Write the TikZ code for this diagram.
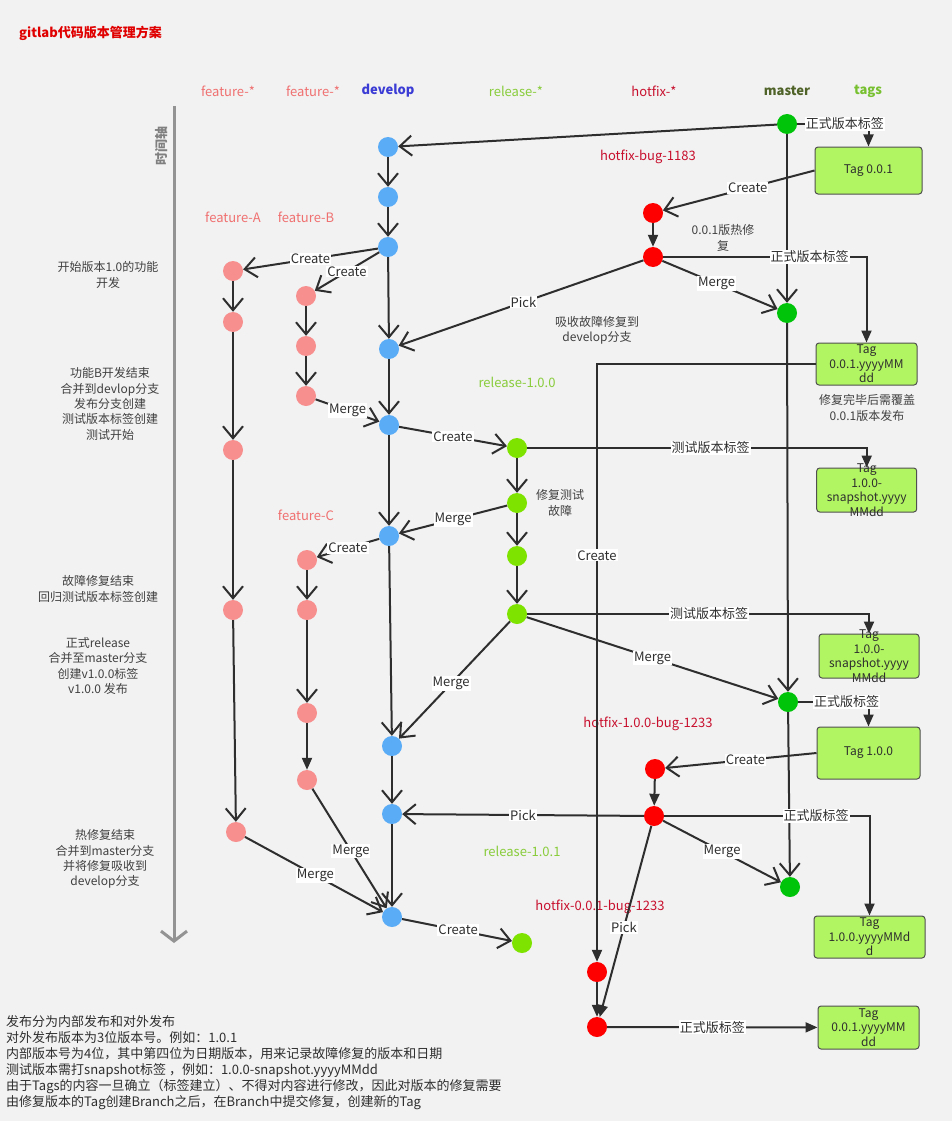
\documentclass[tikz,border=0pt]{standalone}
\usepackage{fontspec}
\setmainfont{Noto Sans CJK SC}
\usetikzlibrary{arrows.meta}
\pgfdeclarelayer{bg}
\pgfsetlayers{bg,main}
\definecolor{bgc}{HTML}{F2F2F2}
\definecolor{devc}{HTML}{5AACF6}
\definecolor{featc}{HTML}{F78F8F}
\definecolor{relc}{HTML}{7FE300}
\definecolor{mastc}{HTML}{00C40A}
\definecolor{hotc}{HTML}{FF0000}
\definecolor{tagc}{HTML}{B2F562}
\definecolor{tagline}{HTML}{505050}
\definecolor{linec}{HTML}{2E2E2E}
\definecolor{branchc}{HTML}{C8C8C8}
\definecolor{dashc}{HTML}{AAAAAA}
\definecolor{annc}{HTML}{404040}
\definecolor{featlbl}{HTML}{F07070}
\definecolor{devlbl}{HTML}{3B3BD5}
\definecolor{rellbl}{HTML}{88CC3A}
\definecolor{hotlbl}{HTML}{C8102E}
\definecolor{mastlbl}{HTML}{4F6228}
\definecolor{taglbl}{HTML}{77C02F}
\definecolor{titlec}{HTML}{E00000}
\tikzset{
  dot/.style={circle, inner sep=0pt, minimum size=20pt, fill=#1, draw=none},
  con/.style={draw=linec, line width=2pt},
  oarr/.style={con, -{Straight Barb[length=12pt,width=20pt]}},
  farr/.style={con, -{Triangle[length=12pt,width=10pt]}},
  lbl/.style={fill=white, inner sep=1pt, text=linec, font=\fontsize{13}{15}\selectfont},
  ann/.style={text=annc, align=center, inner sep=0pt, font=\fontsize{12}{15.3}\selectfont},
  hdr/.style={text=#1, inner sep=0pt, font=\fontsize{13}{15}\selectfont},
  hdrb/.style={text=#1, inner sep=0pt, font=\fontsize{13}{15}\selectfont\bfseries},
  tagbox/.style={draw=tagline, fill=tagc, rounded corners=3pt, line width=1pt, inner sep=0pt},
  tagtxt/.style={text=linec, align=center, inner sep=0pt, font=\fontsize{12}{14.6}\selectfont},
  branch/.style={draw=branchc, line width=2pt},
  sep/.style={draw=dashc, line width=1.5pt, dash pattern=on 4pt off 3pt},
}
\begin{document}
\begin{tikzpicture}[x=1pt,y=-1pt]
\path[use as bounding box, fill=bgc] (0,0) rectangle (952,1121);

% title and headers
\node[hdrb=titlec, anchor=west] (title) at (19,33) {gitlab代码版本管理方案};
\node[hdr=featlbl] (hf1) at (228,91) {feature-*};
\node[hdr=featlbl] (hf2) at (313,91) {feature-*};
\node[hdrb=devlbl] (hdev) at (388,91) {develop};
\node[hdr=rellbl] (hrel) at (516,91) {release-*};
\node[hdr=hotlbl] (hhot) at (654,91) {hotfix-*};
\node[hdrb=mastlbl] (hmas) at (787,91) {master};
\node[hdrb=taglbl] (htag) at (868,91) {tags};

% branch labels
\node[hdr=featlbl] (lfa) at (233,217) {feature-A};
\node[hdr=featlbl] (lfb) at (306,217) {feature-B};
\node[hdr=featlbl] (lfc) at (306,515) {feature-C};
\node[hdr=rellbl] (lr1) at (517,382) {release-1.0.0};
\node[hdr=rellbl] (lr2) at (522,851) {release-1.0.1};
\node[hdr=hotlbl] (lh1) at (648,157) {hotfix-bug-1183};
\node[hdr=hotlbl] (lh2) at (648,724) {hotfix-1.0.0-bug-1233};
\node[hdr=hotlbl] (lh3) at (600,907) {hotfix-0.0.1-bug-1233};

% time axis
\coordinate (axT) at (174,106);
\coordinate (axB) at (174,943);
\draw[draw=gray!85, line width=3pt, -{Straight Barb[length=10pt,width=26pt]}] (axT) -- (axB);
\node[text=gray, rotate=90, inner sep=0pt, font=\fontsize{13}{15}\selectfont\bfseries] (axl) at (162,146) {时间轴};

% commits: develop
\node[dot=devc] (D1) at (388,147) {};
\node[dot=devc] (D2) at (388,197) {};
\node[dot=devc] (D3) at (388,247) {};
\node[dot=devc] (D4) at (389,349) {};
\node[dot=devc] (D5) at (389,425) {};
\node[dot=devc] (D6) at (389,536) {};
\node[dot=devc] (D7) at (392,746) {};
\node[dot=devc] (D8) at (392,814) {};
\node[dot=devc] (D9) at (392,917) {};
% features
\node[dot=featc] (A1) at (233,271) {};
\node[dot=featc] (A2) at (233,322) {};
\node[dot=featc] (A3) at (233,450) {};
\node[dot=featc] (A4) at (233,610) {};
\node[dot=featc] (A5) at (236,832) {};
\node[dot=featc] (B1) at (306,296) {};
\node[dot=featc] (B2) at (306,346) {};
\node[dot=featc] (B3) at (306,396) {};
\node[dot=featc] (C1) at (307,560) {};
\node[dot=featc] (C2) at (307,610) {};
\node[dot=featc] (C3) at (307,713) {};
\node[dot=featc] (C4) at (307,780) {};
% release
\node[dot=relc] (R1) at (517,448) {};
\node[dot=relc] (R2) at (517,503) {};
\node[dot=relc] (R3) at (517,556) {};
\node[dot=relc] (R4) at (517,614) {};
\node[dot=relc] (R5) at (522,943) {};
% hotfix
\node[dot=hotc] (H1) at (653,213) {};
\node[dot=hotc] (H2) at (653,257) {};
\node[dot=hotc] (H3) at (655,769) {};
\node[dot=hotc] (H4) at (654,816) {};
\node[dot=hotc] (H5) at (597,972) {};
\node[dot=hotc] (H6) at (597,1027) {};
% master
\node[dot=mastc] (M1) at (787,124) {};
\node[dot=mastc] (M2) at (787,313) {};
\node[dot=mastc] (M3) at (788,702) {};
\node[dot=mastc] (M4) at (790,887) {};

% tags
\node[tagbox, minimum width=107pt, minimum height=47pt] (T1) at (868.5,170.5) {};
\node[tagtxt] (t1) at (T1) {Tag 0.0.1};
\node[tagbox, minimum width=101pt, minimum height=42pt] (T2) at (866.5,364) {};
\node[tagtxt] (t2) at (T2) {Tag\\0.0.1.yyyyMM\\dd};
\node[tagbox, minimum width=100pt, minimum height=44pt] (T3) at (866.7,490) {};
\node[tagtxt] (t3) at (T3) {Tag\\1.0.0-\\snapshot.yyyy\\MMdd};
\node[tagbox, minimum width=100pt, minimum height=44pt] (T4) at (869,656) {};
\node[tagtxt] (t4) at (T4) {Tag\\1.0.0-\\snapshot.yyyy\\MMdd};
\node[tagbox, minimum width=103pt, minimum height=52pt] (T5) at (868.5,753) {};
\node[tagtxt] (t5) at (T5) {Tag 1.0.0};
\node[tagbox, minimum width=111pt, minimum height=42pt] (T6) at (869.5,937) {};
\node[tagtxt] (t6) at (T6) {Tag\\1.0.0.yyyyMMd\\d};
\node[tagbox, minimum width=101pt, minimum height=43pt] (T7) at (868.5,1027.5) {};
\node[tagtxt] (t7) at (T7) {Tag\\0.0.1.yyyyMM\\dd};

% background: branch lines and separators
\begin{pgfonlayer}{bg}
\draw[branch] (388,107) -- (388,940);
\draw[branch] (233,233) -- (233,778);
\draw[branch] (306,230) -- (306,440);
\draw[branch] (307,532) -- (307,790);
\draw[branch] (517,403) -- (517,642);
\draw[branch] (522,872) -- (522,986);
\draw[branch] (653,170) -- (653,292);
\draw[branch] (655,730) -- (655,853);
\draw[branch] (597,980) -- (597,1058);
\draw[branch] (787,105) -- (787,880);
\draw[sep] (55,296) -- (B1.center);
\draw[sep] (53,448) -- (R1.center);
\draw[sep] (55,614) -- (R4.center);
\draw[sep] (62,702) -- (M3.center);
\draw[sep] (58,887) -- (M4.center);
\end{pgfonlayer}

% develop flow
\draw[oarr] (M1) -- (D1);
\draw[oarr] (D1) -- (D2);
\draw[oarr] (D2) -- (D3);
\draw[oarr] (D3) -- (D4);
\draw[oarr] (D4) -- (D5);
\draw[oarr] (D5) -- (D6);
\draw[oarr] (D6) -- (D7);
\draw[oarr] (D7) -- (D8);
\draw[oarr] (D8) -- (D9);
% features
\draw[oarr] (D3) -- node[lbl, pos=0.5] {Create} (A1);
\draw[oarr] (D3) -- node[lbl, pos=0.5] {Create} (B1);
\draw[oarr] (A1) -- (A2);
\draw[oarr] (A2) -- (A3);
\draw[oarr] (A3) -- (A4);
\draw[oarr] (A4) -- (A5);
\draw[oarr] (B1) -- (B2);
\draw[oarr] (B2) -- (B3);
\draw[oarr] (B3) -- node[lbl, pos=0.5] {Merge} (D5);
\draw[oarr] (D6) -- node[lbl, pos=0.5] {Create} (C1);
\draw[oarr] (C1) -- (C2);
\draw[oarr] (C2) -- (C3);
\draw[farr] (C3) -- (C4);
\draw[oarr] (C4) -- node[lbl, pos=0.52] {Merge} (D9);
\draw[oarr] (A5) -- node[lbl, pos=0.51] {Merge} (D9);
% release
\draw[oarr] (D5) -- node[lbl, pos=0.5] {Create} (R1);
\draw[oarr] (R1) -- (R2);
\draw[oarr] (R2) -- (R3);
\draw[oarr] (R3) -- (R4);
\draw[oarr] (R2) -- node[lbl, pos=0.5] {Merge} (D6);
\draw[oarr] (R4) -- node[lbl, pos=0.5] {Merge} (M3);
\draw[oarr] (R4) -- node[lbl, pos=0.53] {Merge} (D7);
\draw[oarr] (D9) -- node[lbl, pos=0.51] {Create} (R5);
\draw[farr] (R1) -| node[lbl, pos=0.27] {测试版本标签} (T3);
\draw[farr] (R4) -| node[lbl, pos=0.266] {测试版本标签} (T4);
% master
\draw[oarr] (M1) -- (M2);
\draw[oarr] (M2) -- (M3);
\draw[oarr] (M3) -- (M4);
\draw[farr] (M1) -| node[lbl, pos=0.335] {正式版本标签} (T1);
\draw[farr] (M3) -| node[lbl, pos=0.345] {正式版标签} (T5);
% hotfix 1183
\draw[oarr] (T1.west) -- node[lbl, pos=0.44] {Create} (H1);
\draw[farr] (H1) -- (H2);
\draw[oarr] (H2) -- node[lbl, pos=0.49] {Pick} (D4);
\draw[oarr] (H2) -- node[lbl, pos=0.47] {Merge} (M2);
\draw[farr] (H2) -| node[lbl, pos=0.36] {正式版本标签} (T2);
% hotfix 1.0.0
\draw[oarr] (T5.west) -- node[lbl, pos=0.47] {Create} (H3);
\draw[farr] (H3) -- (H4);
\draw[oarr] (H4) -- node[lbl, pos=0.5] {Pick} (D8);
\draw[oarr] (H4) -- node[lbl, pos=0.5] {Merge} (M4);
\draw[farr] (H4) -| node[lbl, pos=0.37] {正式版标签} (T6);
% hotfix 0.0.1
\draw[farr] (T2.west) -| node[lbl, pos=0.66] {Create} (H5);
\draw[farr] (H5) -- (H6);
\draw[farr] (H4) -- node[lbl, pos=0.53] {Pick} (H6);
\draw[farr] (H6) -- node[lbl, pos=0.5] {正式版标签} (T7);

% annotations
\node[ann] (n1) at (108,275) {开始版本1.0的功能\\开发};
\node[ann] (n2) at (110,404) {功能B开发结束\\合并到devlop分支\\发布分支创建\\测试版本标签创建\\测试开始};
\node[ann] (n3) at (98,589) {故障修复结束\\回归测试版本标签创建};
\node[ann] (n4) at (98,666) {正式release\\合并至master分支\\创建v1.0.0标签\\v1.0.0 发布};
\node[ann] (n5) at (105,859) {热修复结束\\合并到master分支\\并将修复吸收到\\develop分支};
\node[ann] (n6) at (723,238) {0.0.1版热修\\复};
\node[ann] (n7) at (597,330) {吸收故障修复到\\develop分支};
\node[ann] (n8) at (560,503) {修复测试\\故障};
\node[ann] (n9) at (867,408) {修复完毕后需覆盖\\0.0.1版本发布};

% bottom notes
\node[text=linec, align=left, anchor=west, inner sep=0pt, font=\fontsize{13}{16}\selectfont] (notes) at (6,1063) {发布分为内部发布和对外发布\\对外发布版本为3位版本号。例如：1.0.1\\内部版本号为4位，其中第四位为日期版本，用来记录故障修复的版本和日期\\测试版本需打snapshot标签 ，例如：1.0.0-snapshot.yyyyMMdd\\由于Tags的内容一旦确立（标签建立）、不得对内容进行修改，因此对版本的修复需要\\由修复版本的Tag创建Branch之后，在Branch中提交修复，创建新的Tag};
\end{tikzpicture}
\end{document}
